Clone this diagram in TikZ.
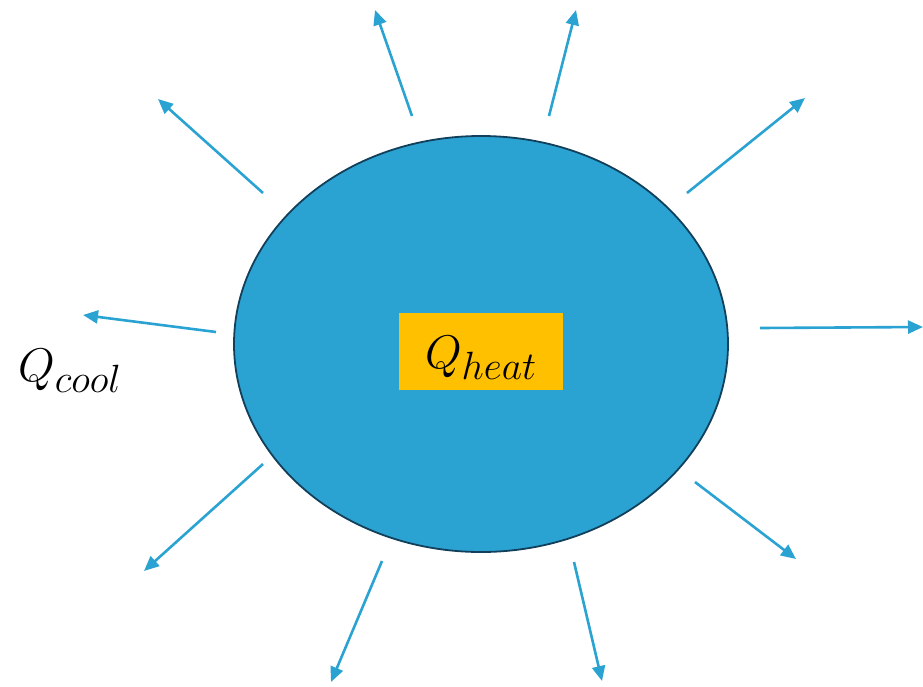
\documentclass[tikz,border=0pt]{standalone}
\usetikzlibrary{arrows.meta, shapes.geometric}
\definecolor{blob}{HTML}{2AA3D3}
\definecolor{rim}{HTML}{123F5A}
\definecolor{heatbg}{HTML}{FFC000}
\newcommand{\bigmath}[1]{\scalebox{1.9}{\Huge$#1$}}

\begin{document}
\begin{tikzpicture}[x=1pt, y=-1pt,
        % the hot body
        body/.style={
            ellipse,
            draw=rim,
            line width=1.8pt,
            fill=blob,
            minimum width=494pt,
            minimum height=416pt,
            inner sep=0pt
        },
        % box for the heat source
        heatbox/.style={
            fill=heatbg,
            minimum width=164pt,
            minimum height=77pt,
            inner sep=0pt
        },
        % outgoing heat arrows
        flux/.style={
            draw=blob,
            line width=2.6pt,
            -{Triangle[length=15pt, width=13pt]}
        },
        biglabel/.style={
            inner sep=0pt
        }
    ]
        \useasboundingbox (0,0) rectangle (923,686);

        % body and labels
        \node[body] (ball) at (481,344) {};
        \node[heatbox] (heat) at (481,351.5) {};
        \node[biglabel] (heattext) at ([yshift=-6pt]heat.center) {\bigmath{Q_{heat}}};
        \node[biglabel] (cool) at (70,371) {\bigmath{Q_{cool}}};

        % --- ARROWS ---
        \foreach \sx/\sy/\ex/\ey [count=\i] in {
            412/116/375/10, 549/116/576/10,
            263/193/158/99, 687/193/805/98,
            216/332/83/315, 760/328/923/327,
            263/464/144/571, 695/482/796/559,
            382/561/331/682, 574/562/602/681} {
            \coordinate (s\i) at (\sx,\sy);
            \coordinate (e\i) at (\ex,\ey);
            \draw[flux] (s\i) -- (e\i);
        }

\end{tikzpicture}
\end{document}
